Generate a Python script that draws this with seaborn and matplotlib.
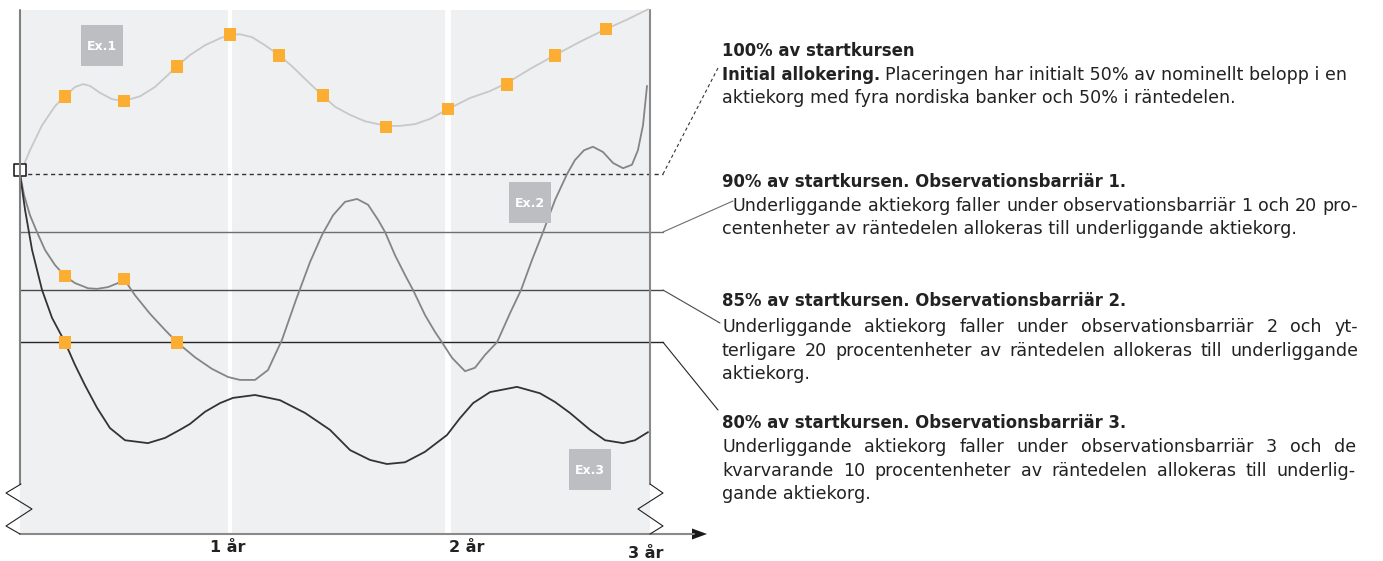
import pandas as pd
import matplotlib.pyplot as plt
import seaborn as sns
from matplotlib.patches import Rectangle, Polygon

# Ex.1 - ljusgrå kurva (månader, nivå där 100 = startkurs)
ex1_manad = [0, 0.57, 1.26, 2.0, 2.57, 3.14, 3.6, 4.0, 4.57, 5.26, 5.94, 6.86, 7.71, 8.46,
             8.97, 9.71, 10.57, 11.43, 12.0, 12.57, 13.26, 14.0, 14.8, 15.54, 16.29, 17.26,
             18.0, 18.86, 19.71, 20.91, 21.71, 22.57, 23.43, 24.46, 25.71, 26.86, 27.83,
             29.14, 30.57, 32.0, 33.49, 34.74, 35.89]
ex1_niva = [100, 104.1, 108.4, 111.7, 113.4, 115.0, 115.5, 115.2, 114.0, 112.9, 112.6, 113.4,
            115.0, 117.1, 118.6, 120.5, 122.2, 123.4, 124.0, 124.1, 123.6, 122.2, 120.5, 118.6,
            116.4, 113.6, 111.6, 110.2, 109.1, 108.3, 108.3, 108.6, 109.5, 111.2, 113.1, 114.3,
            115.7, 118.1, 120.5, 122.8, 125.0, 126.7, 128.4]

# Ex.2 - mellangrå kurva
ex2_manad = [0, 0.23, 0.57, 0.97, 1.43, 2.0, 2.57, 3.14, 3.89, 4.4, 5.03, 5.6, 5.94, 6.57,
             7.43, 8.29, 8.97, 10.0, 10.97, 11.89, 12.57, 13.43, 14.17, 14.97, 15.77, 16.57,
             17.26, 17.89, 18.57, 19.26, 19.89, 20.46, 20.86, 21.43, 22.0, 22.46, 23.14, 23.71,
             24.11, 24.69, 25.43, 26.0, 26.57, 27.26, 28.0, 28.63, 29.26, 29.89, 30.57, 31.26,
             31.71, 32.23, 32.74, 33.31, 33.89, 34.46, 34.97, 35.31, 35.6, 35.83]
ex2_niva = [100, 96.4, 92.9, 90.0, 86.9, 84.3, 82.4, 81.2, 80.3, 80.2, 80.5, 81.2, 81.9, 79.1,
            75.9, 73.1, 71.0, 68.4, 66.4, 65.0, 64.5, 64.5, 66.2, 71.4, 78.3, 84.8, 89.5, 92.9,
            95.2, 95.7, 94.7, 92.1, 90.0, 86.0, 82.6, 80.0, 75.7, 72.8, 71.0, 68.3, 66.0, 66.6,
            68.8, 71.0, 76.0, 80.0, 85.2, 90.0, 95.5, 100.0, 102.4, 104.1, 104.7, 103.8, 101.9,
            101.0, 101.6, 104.1, 108.4, 115.2]

# Ex.3 - mörk kurva
ex3_manad = [0, 0.29, 0.69, 1.26, 1.83, 2.57, 3.14, 3.71, 4.4, 5.14, 6.0, 7.31, 8.29, 9.14,
             9.71, 10.57, 11.43, 12.17, 13.43, 14.86, 16.29, 17.71, 18.86, 20.0, 20.97, 22.0,
             23.14, 24.4, 25.14, 25.89, 26.86, 28.4, 29.71, 30.57, 31.43, 32.57, 33.43, 34.46,
             35.14, 35.89]
ex3_niva = [100, 93.8, 86.9, 80.0, 75.2, 71.0, 67.1, 63.6, 59.7, 56.2, 54.1, 53.6, 54.5, 55.9,
            56.9, 59.0, 60.5, 61.4, 61.9, 61.0, 58.8, 55.9, 52.4, 50.7, 50.0, 50.3, 52.1, 55.0,
            57.9, 60.5, 62.4, 63.3, 62.2, 60.7, 58.8, 55.9, 54.1, 53.6, 54.1, 55.5]

# observationstillfällen (orange kvadrater)
obs_manad = [2.57, 5.94, 8.97, 12.0, 14.8, 17.31, 20.91, 24.46, 27.83, 30.57, 33.49,
             2.57, 5.94, 8.97, 2.57]
obs_niva = [113.3, 112.6, 118.6, 124.0, 120.5, 113.6, 108.1, 111.2, 115.5, 120.5, 125.0,
            82.4, 81.9, 71.0, 71.0]

# nivåer: startkurs, barriär 1, 2, 3 (schematisk skala)
nivaer = [100, 90, 80, 71]
niva_farg = ["#333333", "#6e6e6e", "#4a4a4a", "#262626"]

ar_etiketter = ["1 år", "2 år", "3 år"]

rubriker = ["100% av startkursen",
            "90% av startkursen. Observationsbarriär 1.",
            "85% av startkursen. Observationsbarriär 2.",
            "80% av startkursen. Observationsbarriär 3."]

df = pd.concat([
    pd.DataFrame({"manad": ex1_manad, "niva": ex1_niva, "ex": "Ex.1"}),
    pd.DataFrame({"manad": ex2_manad, "niva": ex2_niva, "ex": "Ex.2"}),
    pd.DataFrame({"manad": ex3_manad, "niva": ex3_niva, "ex": "Ex.3"}),
])
obs = pd.DataFrame({"manad": obs_manad, "niva": obs_niva})

sns.set_style("white")
plt.rcParams["font.family"] = ["DejaVu Sans"]
TXT = "#222222"

fig = plt.figure(figsize=(13.83, 5.61), dpi=100)
ax = fig.add_axes([20 / 1383, 26 / 561, 630 / 1383, 525 / 561])
ax.set_facecolor("#eff0f2")
for s in ax.spines.values():
    s.set_visible(False)
ax.set_xlim(0, 36)
ax.set_ylim(37.76, 128.28)
ax.set_xticks([])
ax.set_yticks([])

# vita årslinjer
ax.axvline(12.0, color="white", lw=3, zorder=1)
ax.axvline(24.46, color="white", lw=4.3, zorder=1)

# barriärlinjer
for i, (lv, c) in enumerate(zip(nivaer, niva_farg)):
    ax.axhline(lv, xmin=0, xmax=643 / 630, color=c, lw=1.0, clip_on=False,
               ls=(0, (3, 2.5)) if i == 0 else "-", zorder=2)

sns.lineplot(data=df, x="manad", y="niva", hue="ex", estimator=None, sort=False,
             palette={"Ex.1": "#c8c8c8", "Ex.2": "#858585", "Ex.3": "#333333"},
             lw=1.3, legend=False, ax=ax, zorder=3, clip_on=False)
sns.scatterplot(data=obs, x="manad", y="niva", marker="s", s=85, color="#fbae32",
                edgecolor="none", linewidth=0, ax=ax, zorder=4)
ax.scatter([0], [100.7], marker="s", s=75, facecolor="white", edgecolor="#222222",
           lw=1.2, zorder=5, clip_on=False)
ax.set_xlabel("")
ax.set_ylabel("")

# överlägg i pixelkoordinater för ram, pilar och text
ov = fig.add_axes([0, 0, 1, 1], zorder=10)
ov.set_xlim(0, 1383)
ov.set_ylim(561, 0)
ov.axis("off")
ov.patch.set_alpha(0)

ov.plot([20, 20], [10, 484], color="#808080", lw=1.5)
ov.plot([650, 650], [10, 484], color="#8a8a8a", lw=1.5)
ov.plot([20, 694], [534, 534], color="#8a8a8a", lw=1.5)
ov.add_patch(Polygon([[692, 528.5], [707, 534], [692, 539.5]], closed=True,
                     color="#1a1a1a", lw=0))
ov.plot([21, 6, 32, 6, 20], [484, 493, 509, 526, 534], color="#222222", lw=0.8)
ov.plot([650, 663, 638, 663, 650], [484, 493, 509, 526, 534], color="#222222", lw=0.8)

# kopplingslinjer till texterna
ends = [(718, 68), (733, 201), (720, 323), (718, 410)]
for i, (lv, c, (ex_, ey)) in enumerate(zip(nivaer, niva_farg, ends)):
    yd = ax.transData.transform((0, lv))[1]
    ypx = 561 - yd
    ov.plot([663, ex_], [ypx, ey], color=c, lw=0.8,
            ls=(0, (3, 2.5)) if i == 0 else "-")

# Ex-rutor
for lab, (bx, by) in zip(["Ex.1", "Ex.2", "Ex.3"], [(81, 25), (509, 182), (569, 449)]):
    ov.add_patch(Rectangle((bx, by), 42, 41, color="#bdbec1", lw=0))
    ov.text(bx + 21, by + 21, lab, color="white", fontsize=9, fontweight="bold",
            ha="center", va="center")

for lab, (tx, ty) in zip(ar_etiketter, [(228, 548), (467, 548), (646, 553)]):
    ov.text(tx, ty, lab, color=TXT, fontsize=11.5, fontweight="bold", ha="center", va="center")

FS = 12.6
FSB = 11.9
renderer = fig.canvas.get_renderer()


def justera(x0, x1, y, line):
    words = line.split(" ")
    ts = [ov.text(0, y, w, fontsize=FS, color=TXT, va="center") for w in words]
    ws = [t.get_window_extent(renderer).width for t in ts]
    gap = (x1 - x0 - sum(ws)) / (len(words) - 1)
    x = x0
    for t, w in zip(ts, ws):
        t.set_x(x)
        x += w + gap


def vanlig(x, y, s, bold=False):
    return ov.text(x, y, s, fontsize=FSB if bold else FS, color=TXT, va="center",
                   fontweight="bold" if bold else "normal")


X0 = 722
vanlig(X0, 51, rubriker[0], bold=True)
t = vanlig(X0, 75, "Initial allokering.", bold=True)
w = t.get_window_extent(renderer).width
vanlig(X0 + w + 5, 75, "Placeringen har initialt 50% av nominellt belopp i en")
vanlig(X0, 98, "aktiekorg med fyra nordiska banker och 50% i räntedelen.")

vanlig(X0, 182, rubriker[1], bold=True)
justera(733, 1358, 206, "Underliggande aktiekorg faller under observationsbarriär 1 och 20 pro-")
vanlig(X0, 229, "centenheter av räntedelen allokeras till underliggande aktiekorg.")

vanlig(X0, 301, rubriker[2], bold=True)
justera(X0, 1358, 327, "Underliggande aktiekorg faller under observationsbarriär 2 och yt-")
justera(X0, 1358, 351, "terligare 20 procentenheter av räntedelen allokeras till underliggande")
vanlig(X0, 374, "aktiekorg.")

vanlig(X0, 423, rubriker[3], bold=True)
justera(X0, 1356, 447, "Underliggande aktiekorg faller under observationsbarriär 3 och de")
justera(X0, 1356, 471, "kvarvarande 10 procentenheter av räntedelen allokeras till underlig-")
vanlig(X0, 494, "gande aktiekorg.")

fig.savefig("out.png", dpi=100)
